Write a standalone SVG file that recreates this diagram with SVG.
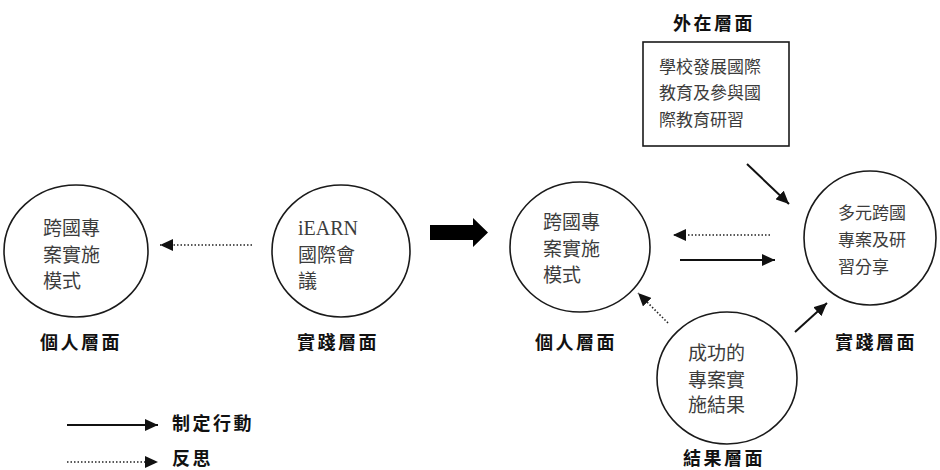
<svg xmlns="http://www.w3.org/2000/svg" width="940" height="470" viewBox="0 0 940 470">
<style>
.node{fill:none;stroke:#1a1a1a;stroke-width:1.6}
.t{font-family:"Noto Sans CJK TC","Noto Sans CJK SC",sans-serif;font-size:19px;fill:#3c3c3c}
.ts{font-family:"Noto Sans CJK TC","Noto Sans CJK SC",sans-serif;font-size:17px;fill:#3c3c3c}
.lat{font-family:"Liberation Serif",serif;font-size:20px;fill:#3c3c3c}
.lbl{font-family:"Noto Sans CJK TC","Noto Sans CJK SC",sans-serif;font-size:18px;font-weight:bold;fill:#111;letter-spacing:2.5px}
.act{stroke:#111;stroke-width:2;fill:none}
.ref{stroke:#222;stroke-width:1.6;stroke-dasharray:1.5 2;fill:none}
</style>
<defs>
<marker id="ah" markerUnits="userSpaceOnUse" markerWidth="14" markerHeight="12" refX="13" refY="6" orient="auto">
<path d="M0,0 L13,6 L0,12 z" fill="#111"/>
</marker>
</defs>
<rect width="940" height="470" fill="#fff"/>

<g id="node-personal-1">
<ellipse class="node" cx="76" cy="251" rx="72" ry="66"/>
<text class="t" x="43" y="235">跨國專</text>
<text class="t" x="43" y="262">案實施</text>
<text class="t" x="43" y="288">模式</text>
<text class="lbl" x="40" y="349">個人層面</text>
</g>

<g id="node-iearn">
<ellipse class="node" cx="341" cy="251" rx="69" ry="66"/>
<text class="lat" x="298" y="235">iEARN</text>
<text class="t" x="298" y="262">國際會</text>
<text class="t" x="298" y="288">議</text>
<text class="lbl" x="297" y="349">實踐層面</text>
</g>

<g id="node-personal-2">
<ellipse class="node" cx="580" cy="247" rx="70" ry="65"/>
<text class="t" x="543" y="229">跨國專</text>
<text class="t" x="543" y="256">案實施</text>
<text class="t" x="543" y="282">模式</text>
<text class="lbl" x="535" y="349">個人層面</text>
</g>

<g id="node-external">
<text class="lbl" x="673" y="30">外在層面</text>
<rect class="node" x="643" y="42" width="146" height="104"/>
<text class="ts" x="659" y="73">學校發展國際</text>
<text class="ts" x="659" y="99">教育及參與國</text>
<text class="ts" x="659" y="126">際教育研習</text>
</g>

<g id="node-practice">
<ellipse class="node" cx="870" cy="238" rx="66" ry="67"/>
<text class="ts" x="838" y="219">多元跨國</text>
<text class="ts" x="838" y="246">專案及研</text>
<text class="ts" x="838" y="273">習分享</text>
<text class="lbl" x="835" y="349">實踐層面</text>
</g>

<g id="node-result">
<ellipse class="node" cx="727" cy="378" rx="70" ry="66"/>
<text class="t" x="688" y="360">成功的</text>
<text class="t" x="688" y="387">專案實</text>
<text class="t" x="688" y="412">施結果</text>
<text class="lbl" x="683" y="465">結果層面</text>
</g>

<g id="connectors">
<line class="ref" x1="252" y1="245" x2="160" y2="245" marker-end="url(#ah)"/>
<polygon points="430,225 473,225 473,218 488,232.5 473,247 473,240 430,240" fill="#000"/>
<line class="ref" x1="770" y1="235" x2="673" y2="235" marker-end="url(#ah)"/>
<line class="act" x1="680" y1="260" x2="775" y2="260" marker-end="url(#ah)"/>
<line class="ref" x1="668" y1="323" x2="638" y2="293" marker-end="url(#ah)"/>
<line class="act" x1="747" y1="164" x2="789" y2="204" marker-end="url(#ah)"/>
<line class="act" x1="795" y1="332" x2="827" y2="303" marker-end="url(#ah)"/>
</g>

<g id="legend">
<line class="act" x1="67" y1="425" x2="158" y2="425" marker-end="url(#ah)"/>
<text class="lbl" x="172" y="430">制定行動</text>
<line class="ref" x1="67" y1="462" x2="158" y2="462" marker-end="url(#ah)"/>
<text class="lbl" x="172" y="465">反思</text>
</g>
</svg>
